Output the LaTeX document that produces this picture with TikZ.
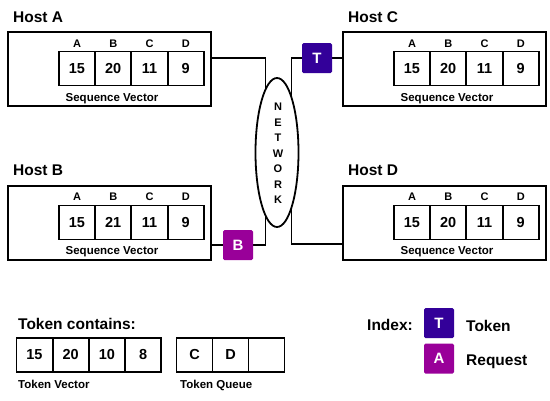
\documentclass[tikz,border=0pt]{standalone}
\usepackage{fontspec}
\setmainfont{Liberation Sans}
\usetikzlibrary{positioning,calc,backgrounds,shapes.geometric}
\definecolor{TokenBlue}{RGB}{51,0,153}
\definecolor{ReqPurple}{RGB}{153,0,153}

\begin{document}
\begin{tikzpicture}[x=1pt,y=-1pt,
        host/.style={draw,line width=2pt,minimum width=203pt,minimum height=74pt},
        cell/.style={draw,line width=1.8pt,minimum width=36pt,minimum height=34pt,
                     inner sep=0pt,font=\fontsize{14.5}{17}\selectfont\bfseries},
        colhead/.style={inner sep=0pt,anchor=base,font=\fontsize{11}{13}\selectfont\bfseries},
        caption/.style={inner sep=0pt,font=\fontsize{11.5}{13}\selectfont\bfseries},
        title/.style={inner sep=0pt,anchor=base west,font=\fontsize{15.5}{18}\selectfont\bfseries},
        badge/.style={minimum size=30pt,inner sep=0pt,rounded corners=1.5pt,text=white,
                      font=\fontsize{15}{18}\selectfont\bfseries},
        netletter/.style={inner sep=0pt,font=\fontsize{11}{13}\selectfont\bfseries},
        wire/.style={line width=1.8pt}
      ]
        \useasboundingbox (0,0) rectangle (550,400);
        % hosts
        \node[host] (hostA) at (109.5,69) {};
        \node[title] (titleA) at (13,22.5) {Host A};
        \foreach \c/\v [count=\i] in {A/15,B/20,C/11,D/9}{
          \node[cell] (a\i) at (40.75+36.25*\i,68.5) {\v};
          \node[colhead] (ha\i) at (40.75+36.25*\i,47.5) {\c};
        }
        \node[caption,anchor=base] (seqA) at (112,101) {Sequence Vector};

        \node[host] (hostC) at (444.5,69) {};
        \node[title] (titleC) at (348,22.5) {Host C};
        \foreach \c/\v [count=\i] in {A/15,B/20,C/11,D/9}{
          \node[cell] (c\i) at (375.75+36.25*\i,68.5) {\v};
          \node[colhead] (hc\i) at (375.75+36.25*\i,47.5) {\c};
        }
        \node[caption,anchor=base] (seqC) at (447,101) {Sequence Vector};

        \node[host] (hostB) at (109.5,222.5) {};
        \node[title] (titleB) at (13,175.5) {Host B};
        \foreach \c/\v [count=\i] in {A/15,B/21,C/11,D/9}{
          \node[cell] (b\i) at (40.75+36.25*\i,222.5) {\v};
          \node[colhead] (hb\i) at (40.75+36.25*\i,200.5) {\c};
        }
        \node[caption,anchor=base] (seqB) at (112,254) {Sequence Vector};

        \node[host] (hostD) at (444.5,222.5) {};
        \node[title] (titleD) at (348,175.5) {Host D};
        \foreach \c/\v [count=\i] in {A/15,B/20,C/11,D/9}{
          \node[cell] (d\i) at (375.75+36.25*\i,222.5) {\v};
          \node[colhead] (hd\i) at (375.75+36.25*\i,200.5) {\c};
        }
        \node[caption,anchor=base] (seqD) at (447,254) {Sequence Vector};

        % network and messages
        \node[draw,ellipse,line width=1.8pt,fill=white,minimum width=43pt,
              minimum height=149pt,inner sep=0pt] (net) at (277,152.5) {};
        \foreach \l [count=\i] in {N,E,T,W,O,R,K}
          \node[netletter] (n\i) at (278,91.5+15.5*\i) {\l};
        \node[badge,fill=TokenBlue] (tokT) at (317,58) {T};
        \node[badge,fill=ReqPurple] (reqB) at (238,245) {B};

        \begin{scope}[on background layer]
          \draw[wire] ([yshift=11pt]hostA.east) -| ([xshift=-11.5pt]net.center);
          \draw[wire] (tokT) -- (tokT -| hostC.west);
          \draw[wire] (tokT) -| ([xshift=14.5pt]net.center);
          \draw[wire] (reqB -| hostB.east) -- (reqB);
          \draw[wire] (reqB) -| ([xshift=-11.5pt]net.center);
          \draw[wire] ([yshift=-21.5pt]hostD.west) -| ([xshift=14.5pt]net.center);
        \end{scope}

        % token contents
        \node[title] (tokTitle) at (18,329.3) {Token contains:};
        \foreach \v [count=\i] in {15,20,10,8}
          \node[cell] (tv\i) at (-1.75+36.25*\i,355) {\v};
        \foreach \v [count=\i] in {C,D,{}}
          \node[cell] (tq\i) at (158.5+36*\i,355) {\v};
        \node[caption,anchor=base west] (tvLbl) at (18,388) {Token Vector};
        \node[caption,anchor=base west] (tqLbl) at (180,388) {Token Queue};

        % index
        \node[title] (keyTitle) at (367,330.7) {Index:};
        \node[badge,fill=TokenBlue] (keyT) at (439,323) {T};
        \node[badge,fill=ReqPurple] (keyA) at (439,358.5) {A};
        \node[title] (keyTLbl) at (466,331.5) {Token};
        \node[title] (keyALbl) at (466,365) {Request};
      \end{tikzpicture}
\end{document}
